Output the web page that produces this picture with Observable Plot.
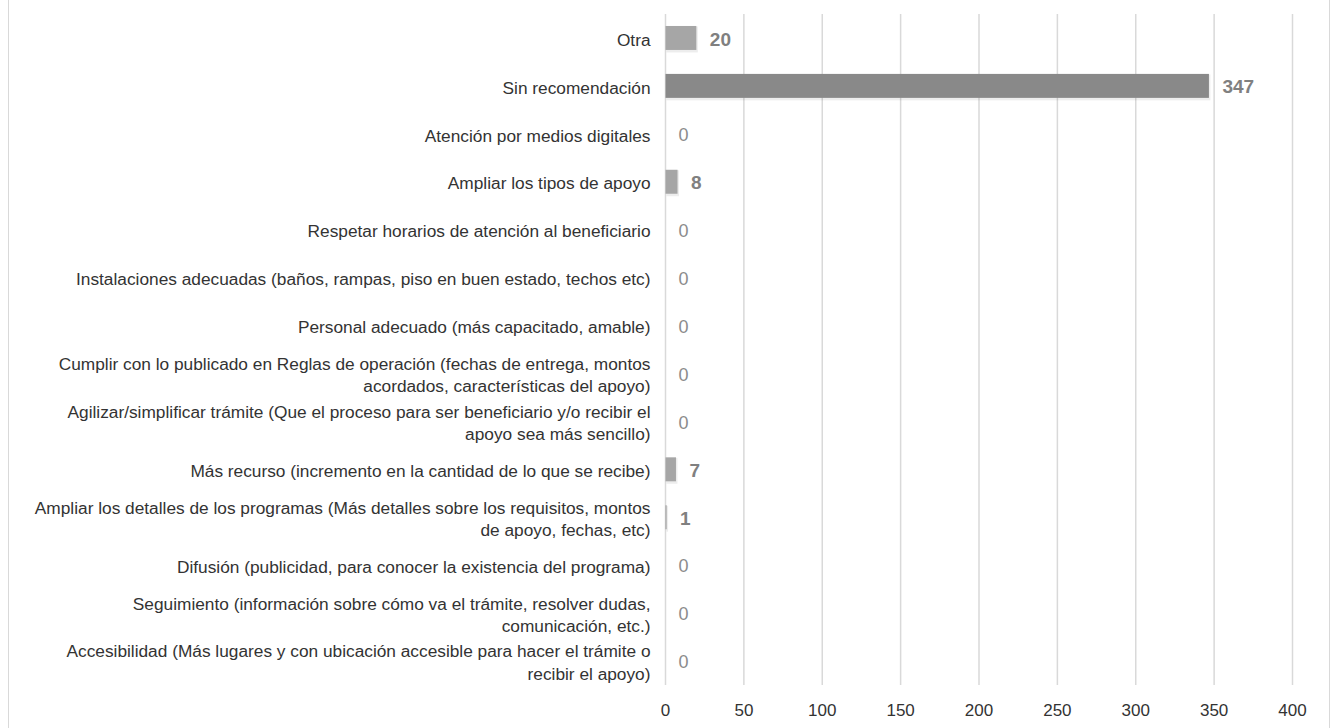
<!DOCTYPE html>
<html>
<head>
<meta charset="utf-8">
<script src="https://cdn.jsdelivr.net/npm/d3@7"></script>
<script src="https://cdn.jsdelivr.net/npm/@observablehq/plot@0.6"></script>
<style>
  html, body { margin: 0; padding: 0; background: #fff; }
  #wrap { position: relative; width: 1335px; height: 728px; overflow: hidden; }
  #border { position: absolute; left: 8px; top: -2px; width: 1322px; height: 731px; border: 1.5px solid #d9d9d9; box-sizing: border-box; pointer-events: none; }
  #chart { position: absolute; left: 0; top: 0; }
</style>
</head>
<body>
<div id="wrap"><div id="chart"></div><div id="border"></div></div>
<script>
const categories = [
  "Otra",
  "Sin recomendación",
  "Atención por medios digitales",
  "Ampliar los tipos de apoyo",
  "Respetar horarios de atención al beneficiario",
  "Instalaciones adecuadas (baños, rampas, piso en buen estado, techos etc)",
  "Personal adecuado (más capacitado, amable)",
  "Cumplir con lo publicado en Reglas de operación (fechas de entrega, montos\nacordados, características del apoyo)",
  "Agilizar/simplificar trámite (Que el proceso para ser beneficiario y/o recibir el\napoyo sea más sencillo)",
  "Más recurso (incremento en la cantidad de lo que se recibe)",
  "Ampliar los detalles de los programas (Más detalles sobre los requisitos, montos\nde apoyo, fechas, etc)",
  "Difusión (publicidad, para conocer la existencia del programa)",
  "Seguimiento (información sobre cómo va el trámite, resolver dudas,\ncomunicación, etc.)",
  "Accesibilidad (Más lugares y con ubicación accesible para hacer el trámite o\nrecibir el apoyo)"
];
const values = [20, 347, 0, 8, 0, 0, 0, 0, 0, 7, 1, 0, 0, 0];
const barColors = ["#a6a6a6", "#898989", "#a6a6a6", "#a6a6a6", "#a6a6a6", "#a6a6a6", "#a6a6a6", "#a6a6a6", "#a6a6a6", "#a6a6a6", "#999999", "#a6a6a6", "#a6a6a6", "#a6a6a6"];
const xTicks = [0, 50, 100, 150, 200, 250, 300, 350, 400];

const data = categories.map((c, i) => ({category: c, value: values[i], color: barColors[i]}));
const nonZero = data.filter(d => d.value > 0);
const zero = data.filter(d => d.value === 0);

const chart = Plot.plot({
  width: 1335,
  height: 728,
  marginLeft: 665,
  marginRight: 43,
  marginTop: 14,
  marginBottom: 43,
  style: {fontFamily: "'Liberation Sans', Arial, sans-serif", fontSize: "17px", color: "#333", background: "transparent"},
  x: {domain: [0, 400], ticks: xTicks, label: null},
  y: {domain: categories, label: null, paddingInner: 0.5, paddingOuter: 0.25, round: false},
  marks: [
    Plot.gridX(xTicks, {stroke: "#d9d9d9", strokeOpacity: 1, strokeWidth: 1.5}),
    Plot.barX(data, {x: "value", y: "category", fill: "#000", fillOpacity: 0.07, dx: 1.5, dy: 1.5, insetTop: -1, insetBottom: -1}),
    Plot.barX(data, {x: "value", y: "category", fill: "color", insetLeft: 0.5}),
    Plot.text(nonZero, {x: "value", y: "category", text: d => String(d.value), textAnchor: "start", dx: 13, dy: 1, fill: "#808080", fontWeight: "bold", fontSize: 19}),
    Plot.text(zero, {x: "value", y: "category", text: d => String(d.value), textAnchor: "start", dx: 13, dy: 1, fill: "#8c8c8c", fontSize: 18}),
    Plot.axisX({ticks: xTicks, tickSize: 0, tickPadding: 18, fontSize: 17, fill: "#333"}),
    Plot.axisY({tickSize: 0, tickPadding: 15, fontSize: 17.3, fill: "#333", lineHeight: 1.3})
  ]
});
document.getElementById("chart").appendChild(chart);
</script>
</body>
</html>
